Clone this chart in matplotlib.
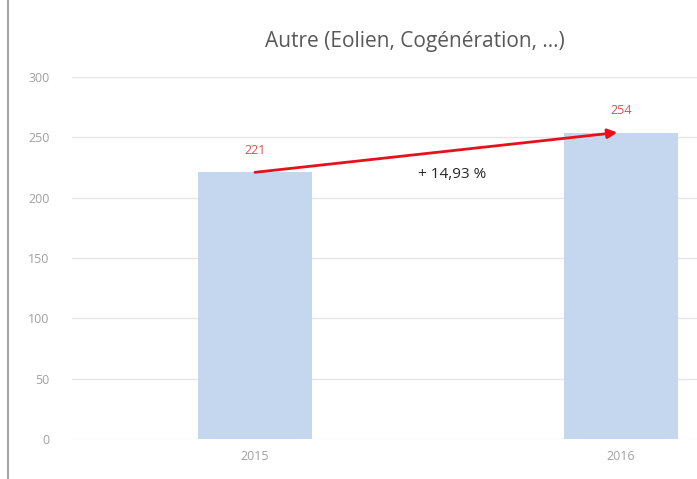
import matplotlib
matplotlib.use("Agg")
import matplotlib.pyplot as plt
from matplotlib.lines import Line2D
import matplotlib.patheffects as pe

categories = ["2015", "2016"]
values = [221, 254]
title = "Autre (Eolien, Cogénération, ...)"
change_label = "+ 14,93 %"
yticks = [0, 50, 100, 150, 200, 250, 300]

plt.rcParams['font.family'] = ['Open Sans', 'DejaVu Sans']

fig = plt.figure(figsize=(6.97, 4.79), dpi=100)
ax = fig.add_axes([72/697, 40/479, 625/697, 362/479])

x = list(range(len(categories)))
ax.bar(x, values, width=0.31, color="#c5d7ee", zorder=2)
ax.set_xlim(-0.5, 1.208)
ax.set_ylim(0, 300)
ax.set_yticks(yticks)
ax.set_yticklabels([str(t) for t in yticks])
ax.set_xticks(x)
ax.set_xticklabels(categories)
ax.tick_params(axis='both', length=0, colors="#a0a0a0", labelsize=9)
ax.tick_params(axis='y', pad=16)
ax.tick_params(axis='x', pad=8)
ax.grid(axis='y', color="#e6e6e6", linewidth=1, zorder=0)
for s in ax.spines.values():
    s.set_visible(False)

for xi, v in zip(x, values):
    ax.annotate(str(v), (xi, v), xytext=(0, 11), textcoords='offset points',
                ha='center', va='bottom', color="#e05050", fontsize=9)

ax.annotate("", xy=(x[1] - 0.01, values[1]), xytext=(x[0], values[0]),
            arrowprops=dict(arrowstyle='-|>', color='#e8101a', lw=2,
                            mutation_scale=14, shrinkA=0, shrinkB=0,
                            path_effects=[pe.withSimplePatchShadow(offset=(0.6, -0.6), shadow_rgbFace='#600000', alpha=0.6)]),
            zorder=5)

ax.text(0.54, 219.5, change_label, ha='center', va='center', fontsize=11,
        color="#262626", fontweight='medium')

fig.text(415/697, 1 - 42/479, title, ha='center', va='center', fontsize=15, color="#595959")

fig.add_artist(Line2D([8/697, 8/697], [0, 1], transform=fig.transFigure, color="#a6a6a6", lw=1.5))

fig.savefig("out.png", dpi=100, facecolor='white')
